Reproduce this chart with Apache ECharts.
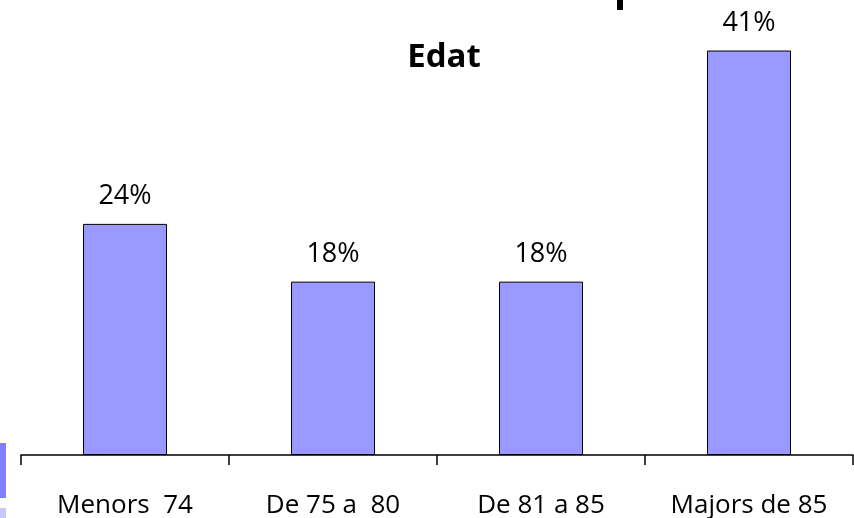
<!DOCTYPE html>
<html>
<head>
<meta charset="utf-8">
<script src="https://cdn.jsdelivr.net/npm/echarts@6/dist/echarts.min.js"></script>
<style>html,body{margin:0;padding:0;background:#fff;}#c{width:854px;height:518px;}</style>
</head>
<body>
<div id="c"></div>
<script>
const titleText = 'Edat';
const categories = ['Menors  74', 'De 75 a  80', 'De 81 a 85', 'Majors de 85'];
const values = [23.53, 17.65, 17.65, 41.18];

const chart = echarts.init(document.getElementById('c'));
chart.setOption({
  animation: false,
  backgroundColor: '#fff',
  title: {
    text: titleText,
    left: 439,
    top: 36,
    textAlign: 'center',
    textStyle: { fontFamily: 'Open Sans', fontWeight: 'bold', fontSize: 33, color: '#000' }
  },
  grid: { left: 21, right: 1, top: 13, bottom: 63, containLabel: false, outerBoundsMode: 'none' },
  xAxis: {
    type: 'category',
    data: categories,
    axisLine: { lineStyle: { color: '#000', width: 1.5 } },
    axisTick: { show: true, length: 10, lineStyle: { color: '#000', width: 1.5 } },
    axisLabel: { color: '#000', fontFamily: 'Open Sans', fontSize: 26, margin: 38 }
  },
  yAxis: { type: 'value', min: 0, max: 45, show: false, splitLine: { show: false } },
  series: [{
    type: 'bar',
    data: values,
    barWidth: 84,
    itemStyle: { color: '#9999FF', borderColor: '#000', borderWidth: 1 },
    label: {
      show: true,
      position: 'top',
      distance: 14,
      color: '#000',
      fontFamily: 'Open Sans',
      fontSize: 27,
      formatter: p => Math.round(p.value) + '%'
    }
  }],
  graphic: [
    { type: 'rect', shape: { x: 617, y: 0, width: 6, height: 10 }, style: { fill: '#000' } },
    { type: 'rect', shape: { x: 0, y: 443, width: 6, height: 55 }, style: { fill: '#8080FF' } },
    { type: 'rect', shape: { x: 0, y: 508, width: 6, height: 10 }, style: { fill: '#C8C8FF' } }
  ]
});
</script>
</body>
</html>
